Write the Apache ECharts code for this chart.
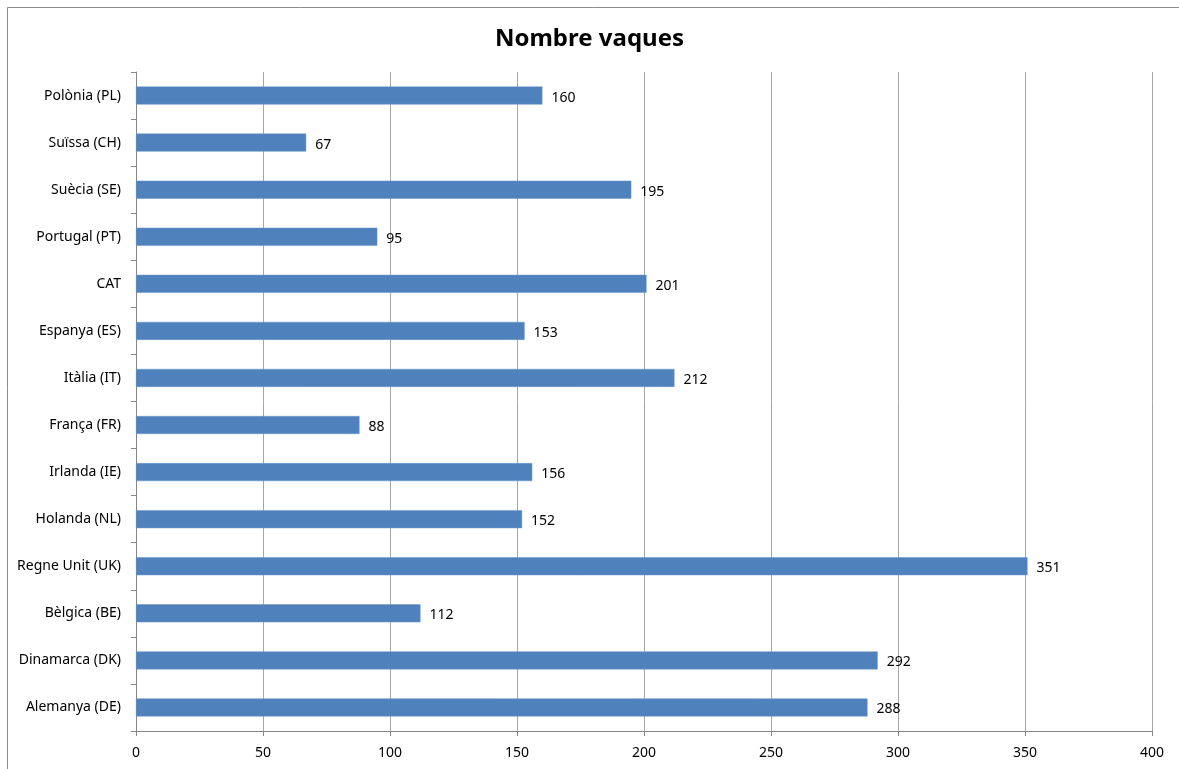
<!DOCTYPE html>
<html>
<head>
<meta charset="utf-8">
<script src="https://cdn.jsdelivr.net/npm/echarts@6/dist/echarts.min.js"></script>
<style>
html,body{margin:0;padding:0;background:#fff;overflow:hidden;}
#c{width:1179px;height:769px;}
</style>
</head>
<body>
<div id="c"></div>
<script>
const titleText = 'Nombre vaques';
const categories = ['Alemanya (DE)','Dinamarca (DK)','Bèlgica (BE)','Regne Unit (UK)','Holanda (NL)','Irlanda (IE)','França (FR)','Itàlia (IT)','Espanya (ES)','CAT','Portugal (PT)','Suècia (SE)','Suïssa (CH)','Polònia (PL)'];
const values = [288, 292, 112, 351, 152, 156, 88, 212, 153, 201, 95, 195, 67, 160];
const xTicks = { min: 0, max: 400, interval: 50 };

const chart = echarts.init(document.getElementById('c'), null, {renderer:'canvas'});
const font = '"Noto Sans", "Open Sans", sans-serif';
chart.setOption({
  animation: false,
  backgroundColor: '#fff',
  textStyle: { fontFamily: font },
  graphic: [{
    type: 'rect', silent: true,
    shape: { x: 7.5, y: 7.5, width: 1300, height: 900 },
    style: { fill: 'none', stroke: '#8c8c8c', lineWidth: 1 }
  }],
  title: {
    text: titleText, left: 'center', top: 22,
    textStyle: { fontFamily: font, fontWeight: 'bold', fontSize: 24, color: '#000' }
  },
  grid: { left: 136, right: 27, top: 72, bottom: 38, containLabel: false },
  xAxis: {
    type: 'value', min: xTicks.min, max: xTicks.max, interval: xTicks.interval,
    axisLine: { show: true, lineStyle: { color: '#868686', width: 1 } },
    axisTick: { show: true, length: 5, lineStyle: { color: '#868686' } },
    axisLabel: { color: '#000', fontSize: 14, margin: 15, fontFamily: font },
    splitLine: { show: true, lineStyle: { color: '#a6a6a6', width: 1 } }
  },
  yAxis: {
    type: 'category', data: categories,
    axisLine: { show: true, lineStyle: { color: '#868686', width: 1 } },
    axisTick: { show: true, length: 5, alignWithLabel: false, lineStyle: { color: '#868686' } },
    axisLabel: { color: '#000', fontSize: 14, margin: 15, fontFamily: font },
    splitLine: { show: false }
  },
  series: [{
    type: 'bar', data: values, barWidth: 18,
    itemStyle: { color: '#4f81bd', borderColor: '#6a96c8', borderWidth: 0.5 },
    label: { show: true, position: 'right', distance: 9, offset: [0, 2], color: '#000', fontSize: 14, fontFamily: font }
  }]
});
</script>
</body>
</html>
